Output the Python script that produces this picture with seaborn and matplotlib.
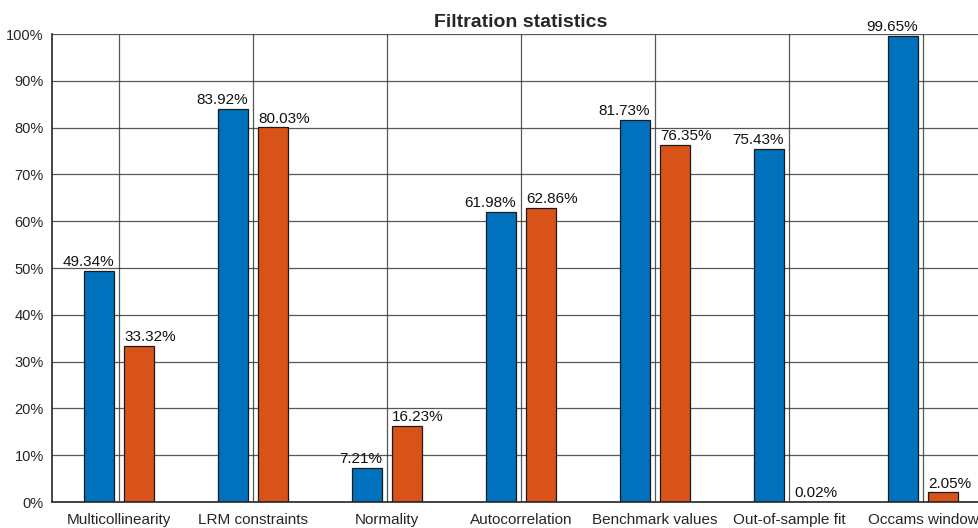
import numpy as np
import pandas as pd
import seaborn as sns
import matplotlib.pyplot as plt

categories = ['Multicollinearity', 'LRM constraints', 'Normality', 'Autocorrelation',
              'Benchmark values', 'Out-of-sample fit', 'Occams window']
series_a = [49.34, 83.92, 7.21, 61.98, 81.73, 75.43, 99.65]
series_b = [33.32, 80.03, 16.23, 62.86, 76.35, 0.02, 2.05]
series_names = ['A', 'B']
y_ticks = list(range(0, 101, 10))

df = pd.DataFrame({
    'category': categories * 2,
    'value': series_a + series_b,
    'series': [series_names[0]] * len(categories) + [series_names[1]] * len(categories),
})

sns.set_style('white')
plt.rcParams['font.family'] = ['Liberation Sans', 'DejaVu Sans']

fig = plt.figure(figsize=(9.79, 5.28), dpi=100)
ax = fig.add_axes([52 / 979, 26 / 528, 938 / 979, 468 / 528])

sns.barplot(data=df, x='category', y='value', hue='series', order=categories,
            palette=['#0072BD', '#D95319'], width=0.6, gap=0.25,
            edgecolor='#1a1a1a', linewidth=0.9, saturation=1, legend=False, ax=ax)

# grid on both axes (seaborn switches off the categorical one)
ax.set_axisbelow(True)
ax.grid(True, axis='both', color='#3a3a3a', linewidth=0.9, alpha=0.85)

# labels: first series right-aligned to bar edge, second left-aligned
for i, cont in enumerate(ax.containers):
    for p in cont.patches:
        h = p.get_height()
        if i == 0:
            xpos, ha = p.get_x() + p.get_width(), 'right'
        else:
            xpos, ha = p.get_x(), 'left'
        ax.text(xpos, h + 0.4, f'{h:.2f}%', ha=ha, va='bottom', fontsize=11, color='#111111')

ax.set_xlim(-0.5, len(categories) - 0.5)
ax.set_ylim(0, 100)
ax.set_yticks(y_ticks)
ax.set_yticklabels([f'{t}%' for t in y_ticks], fontsize=10.5, color='#262626')
ax.set_xticks(range(len(categories)))
ax.set_xticklabels(categories, fontsize=11, color='#262626')
ax.tick_params(axis='y', direction='in', length=6, width=1, color='#262626', pad=6)
ax.tick_params(axis='x', length=0, pad=8)
ax.set_xlabel('')
ax.set_ylabel('')
for s in ['left', 'bottom']:
    ax.spines[s].set_color('#262626')
    ax.spines[s].set_linewidth(1.2)
for s in ['top', 'right']:
    ax.spines[s].set_visible(False)
ax.set_title('Filtration statistics', fontsize=14, fontweight='bold', pad=5)

fig.savefig('out.png', dpi=100)
